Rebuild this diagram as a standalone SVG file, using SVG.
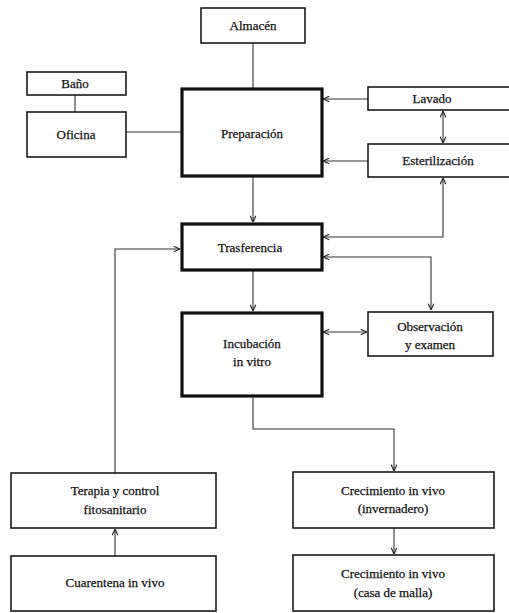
<svg xmlns="http://www.w3.org/2000/svg" width="509" height="613" viewBox="0 0 509 613" font-family="'Liberation Serif', 'Times New Roman', serif">
<defs>
<style>
.b{fill:#fff;stroke:#1a1a1a;stroke-width:1.6}
.t{fill:#fff;stroke:#111;stroke-width:3.2}
.l{fill:none;stroke:#333;stroke-width:1.1}
text{font-family:'Liberation Serif','Times New Roman',serif;font-size:13px;fill:#111;text-anchor:middle;stroke:#111;stroke-width:0.25}
</style>
<marker id="a" viewBox="0 0 10 10" refX="10" refY="5" markerWidth="7" markerHeight="7" orient="auto-start-reverse" markerUnits="userSpaceOnUse">
<path d="M1,1 L10,5 L1,9" fill="none" stroke="#222" stroke-width="1.6"/>
</marker>
</defs>
<rect width="509" height="613" fill="#fff"/>
<g id="connectors">
<line class="l" x1="253" y1="43" x2="253" y2="88"/>
<line class="l" x1="75" y1="95" x2="75" y2="112"/>
<line class="l" x1="126" y1="132" x2="181" y2="132"/>
<line class="l" x1="368" y1="99" x2="323" y2="99" marker-end="url(#a)"/>
<line class="l" x1="368" y1="161" x2="323" y2="161" marker-end="url(#a)"/>
<line class="l" x1="443" y1="111" x2="443" y2="143" marker-start="url(#a)" marker-end="url(#a)"/>
<polyline class="l" points="323,237 443,237 443,178" marker-start="url(#a)" marker-end="url(#a)"/>
<line class="l" x1="253" y1="177" x2="253" y2="222" marker-end="url(#a)"/>
<polyline class="l" points="115,473 115,249 180,249" marker-end="url(#a)"/>
<polyline class="l" points="323,257 431,257 431,310" marker-start="url(#a)" marker-end="url(#a)"/>
<line class="l" x1="253" y1="271" x2="253" y2="311" marker-end="url(#a)"/>
<line class="l" x1="323" y1="332" x2="367" y2="332" marker-start="url(#a)" marker-end="url(#a)"/>
<polyline class="l" points="253,397 253,429 394,429 394,471" marker-end="url(#a)"/>
<line class="l" x1="394" y1="528" x2="394" y2="554" marker-end="url(#a)"/>
<line class="l" x1="115" y1="556" x2="115" y2="529" marker-end="url(#a)"/>
</g>
<g id="almacen"><rect class="b" x="201" y="8" width="104" height="35"/><text x="253" y="30">Almacén</text></g>
<g id="bano"><rect class="b" x="27" y="72" width="99" height="23"/><text x="75" y="88">Baño</text></g>
<g id="oficina"><rect class="b" x="27" y="112" width="99" height="45"/><text x="76" y="139">Oficina</text></g>
<g id="preparacion"><rect class="t" x="182" y="89" width="140" height="87"/><text x="252" y="138">Preparación</text></g>
<g id="lavado"><rect class="b" x="368" y="87" width="146" height="23"/><text x="432" y="103">Lavado</text></g>
<g id="esterilizacion"><rect class="b" x="368" y="144" width="146" height="33"/><text x="438" y="165">Esterilización</text></g>
<g id="trasferencia"><rect class="t" x="182" y="224" width="140" height="46"/><text x="250" y="252">Trasferencia</text></g>
<g id="incubacion"><rect class="t" x="182" y="313" width="140" height="83"/><text x="252" y="348">Incubación</text><text x="252" y="366">in vitro</text></g>
<g id="observacion"><rect class="b" x="368" y="312" width="125" height="44"/><text x="430" y="331">Observación</text><text x="430" y="349">y examen</text></g>
<g id="terapia"><rect class="b" x="11" y="473" width="205" height="55"/><text x="115" y="495">Terapia y control</text><text x="115" y="514">fitosanitario</text></g>
<g id="cuarentena"><rect class="b" x="11" y="556" width="205" height="55"/><text x="115" y="587">Cuarentena in vivo</text></g>
<g id="crecimiento1"><rect class="b" x="293" y="472" width="201" height="56"/><text x="393" y="495">Crecimiento in vivo</text><text x="393" y="513">(invernadero)</text></g>
<g id="crecimiento2"><rect class="b" x="293" y="555" width="201" height="56"/><text x="393" y="578">Crecimiento in vivo</text><text x="393" y="597">(casa de malla)</text></g>
</svg>
